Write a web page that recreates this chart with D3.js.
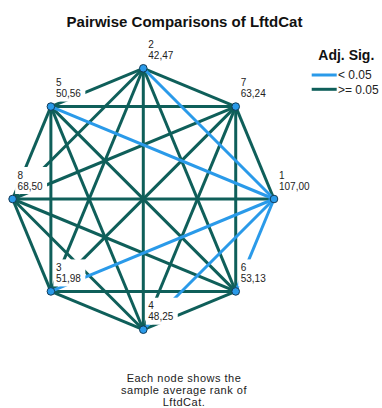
<!DOCTYPE html>
<html>
<head>
<meta charset="utf-8">
<script src="https://cdn.jsdelivr.net/npm/d3@7/dist/d3.min.js"></script>
<style>
  html, body { margin: 0; padding: 0; background: #fff; }
  svg { display: block; font-family: "Liberation Sans", Arial, sans-serif; }
</style>
</head>
<body>
<svg id="chart" width="382" height="408"></svg>
<script>
// Groups of LftdCat, in the order they sit around the ring (clockwise from top)
const groups = ["2", "7", "1", "6", "4", "3", "8", "5"];
// Sample average rank of each group
const avgRanks = [42.47, 63.24, 107.00, 53.13, 48.25, 51.98, 68.50, 50.56];
// Pairs whose adjusted significance is below 0.05
const significantPairs = [["1", "2"], ["1", "5"], ["1", "3"], ["1", "4"], ["1", "6"]];
// Legend entries
const sigClasses = ["< 0.05", ">= 0.05"];
// Footnote lines
const footLines = ["Each node shows the", "sample average rank of", "LftdCat."];

const svg = d3.select("#chart");

const color = d3.scaleOrdinal().domain(sigClasses).range(["#2a9ae9", "#0f5f5a"]);

// Ring geometry
const cx = 143.3, cy = 199, R = 130.7;
const angle = d3.scaleLinear().domain([0, groups.length]).range([-Math.PI / 2, 1.5 * Math.PI]);
const x = d3.scaleLinear().domain([-1, 1]).range([cx - R, cx + R]);
const y = d3.scaleLinear().domain([-1, 1]).range([cy - R, cy + R]);

const nodes = groups.map((g, i) => ({
  id: g,
  rank: avgRanks[i],
  x: x(Math.cos(angle(i))),
  y: y(Math.sin(angle(i)))
}));

const isSig = (a, b) => significantPairs.some(p => (p[0] === a && p[1] === b) || (p[0] === b && p[1] === a));

const edges = [];
for (let i = 0; i < nodes.length; i++) {
  for (let j = i + 1; j < nodes.length; j++) {
    const s = isSig(nodes[i].id, nodes[j].id);
    edges.push({ a: nodes[i], b: nodes[j], cls: s ? sigClasses[0] : sigClasses[1] });
  }
}
// non-significant first so the highlighted pairs sit on top
edges.sort((p, q) => (p.cls === sigClasses[0]) - (q.cls === sigClasses[0]));

// Title
svg.append("text")
  .attr("x", 184.5).attr("y", 27.3)
  .attr("text-anchor", "middle")
  .attr("font-size", 15).attr("font-weight", "bold").attr("fill", "#111")
  .text("Pairwise Comparisons of LftdCat");

// Edges
svg.append("g").selectAll("line").data(edges).join("line")
  .attr("x1", d => d.a.x).attr("y1", d => d.a.y)
  .attr("x2", d => d.b.x).attr("y2", d => d.b.y)
  .attr("stroke", d => color(d.cls))
  .attr("stroke-width", 3);

// Node labels with a white backing box
const labels = svg.append("g").selectAll("g").data(nodes).join("g");
const labelRects = labels.append("rect").attr("fill", "#fff");
const labelTexts = labels.append("text")
  .attr("font-size", 10).attr("fill", "#222");
labelTexts.append("tspan")
  .attr("x", d => d.x + 5).attr("y", d => d.y - 20.5)
  .text(d => d.id);
labelTexts.append("tspan")
  .attr("x", d => d.x + 5).attr("y", d => d.y - 9.5)
  .text(d => d3.format(".2f")(d.rank).replace(".", ","));
labelRects.each(function (d) {
  const t = d3.select(this.parentNode).select("text").node();
  const bb = t.getBBox();
  d3.select(this)
    .attr("x", d.x + 2.5)
    .attr("y", d.y - 32)
    .attr("width", bb.x + bb.width + 4 - (d.x + 2.5))
    .attr("height", 27);
});

// Nodes
svg.append("g").selectAll("circle").data(nodes).join("circle")
  .attr("cx", d => d.x).attr("cy", d => d.y)
  .attr("r", 3.8)
  .attr("fill", color(sigClasses[0]))
  .attr("stroke", "#123b57").attr("stroke-width", 1);

// Legend
const legend = svg.append("g");
legend.append("text")
  .attr("x", 318.3).attr("y", 60)
  .attr("font-size", 14).attr("font-weight", "bold").attr("fill", "#111")
  .text("Adj. Sig.");
const legendY = d3.scalePoint().domain(sigClasses).range([75, 89.3]);
const items = legend.selectAll("g.item").data(sigClasses).join("g").attr("class", "item");
items.append("line")
  .attr("x1", 311.7).attr("x2", 336.7)
  .attr("y1", d => legendY(d)).attr("y2", d => legendY(d))
  .attr("stroke", d => color(d)).attr("stroke-width", 3);
items.append("text")
  .attr("x", 338).attr("y", d => legendY(d) + 4.3)
  .attr("font-size", 12).attr("fill", "#222")
  .text(d => d);

// Footnote
svg.append("g").selectAll("text").data(footLines).join("text")
  .attr("x", 184).attr("y", (d, i) => 381.5 + i * 12)
  .attr("text-anchor", "middle")
  .attr("font-size", 11).attr("letter-spacing", 0.5).attr("fill", "#222")
  .text(d => d);
</script>
</body>
</html>
